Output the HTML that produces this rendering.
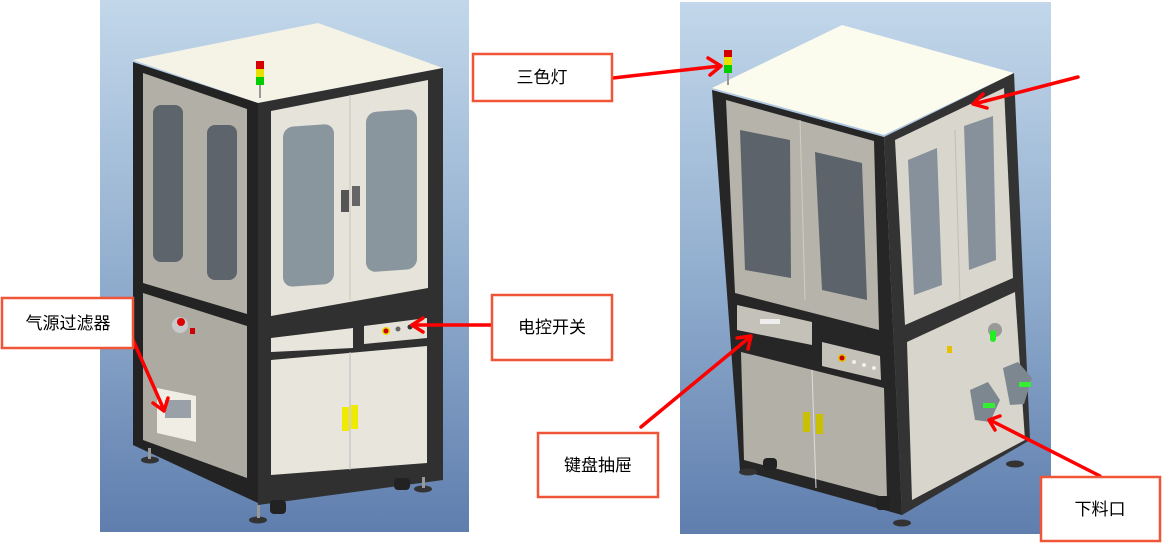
<!DOCTYPE html>
<html><head><meta charset="utf-8"><style>
html,body{margin:0;padding:0;background:#fff;}
svg{display:block}
text{font-family:"Liberation Sans","Noto Sans CJK SC",sans-serif;font-size:17px;fill:#000}
</style></head><body>
<svg width="1162" height="543" viewBox="0 0 1162 543" xmlns="http://www.w3.org/2000/svg">
<defs>
<linearGradient id="bg" x1="0" y1="0" x2="0" y2="1">
<stop offset="0" stop-color="#c2d7ea"/><stop offset="0.5" stop-color="#93afcf"/><stop offset="1" stop-color="#5f7eae"/>
</linearGradient>
</defs>
<rect x="100" y="0" width="369" height="532" fill="url(#bg)"/>
<rect x="680" y="2" width="371" height="532" fill="url(#bg)"/>

<!-- LEFT MACHINE -->
<polygon points="133,60 318,23 443,68 258,103" fill="#f4f3e6"/>
<polygon points="133,62 258,103 258,503 133,445" fill="#232323"/>
<polygon points="143,73 247,109 247,314 143,283" fill="#b2b0a6"/>
<rect x="153" y="105" width="30" height="157" rx="8" fill="#5e646c"/>
<rect x="207" y="125" width="30" height="155" rx="8" fill="#5e646c"/>
<polygon points="143,293 247,326 247,478 143,440" fill="#adaba1"/>
<polygon points="157,388 196,396 196,442 157,433" fill="#f0eee4"/>
<rect x="165" y="400" width="26" height="18" fill="#9aa0a8"/>
<circle cx="180" cy="325" r="8" fill="#c7c9cc"/>
<circle cx="181" cy="322" r="4" fill="#d00"/>
<rect x="190" y="328" width="5" height="6" fill="#c00"/>
<polygon points="258,103 443,68 443,480 258,505" fill="#303030"/>
<polygon points="271,111 428,80 428,288 271,316" fill="#e6e4da"/>
<rect x="283" y="127" width="51" height="160" rx="10" fill="#8a969e" transform="skewY(-4) translate(0,20)"/>
<rect x="366" y="112" width="51" height="160" rx="10" fill="#8a969e" transform="skewY(-4) translate(0,26)"/>
<line x1="350" y1="95" x2="350" y2="300" stroke="#c8c6bc"/>
<rect x="341" y="190" width="8" height="22" fill="#555"/>
<rect x="352" y="186" width="8" height="20" fill="#666"/>
<polygon points="271,338 353,328 353,348 271,352" fill="#e8e6dc"/>
<polygon points="364,326 427,318 427,338 364,344" fill="#e4e2d8"/>
<circle cx="386" cy="331" r="4" fill="#e8d800"/><circle cx="386" cy="331" r="2.5" fill="#c00"/>
<circle cx="398" cy="329" r="2.5" fill="#666"/><circle cx="410" cy="327" r="2.5" fill="#333"/>
<polygon points="271,360 427,346 427,463 271,475" fill="#e8e6dc"/>
<line x1="350" y1="352" x2="350" y2="470" stroke="#bbb"/>
<rect x="342" y="407" width="7" height="24" fill="#f0ea00"/>
<rect x="351" y="405" width="7" height="24" fill="#f0ea00"/>
<ellipse cx="150" cy="460" rx="9" ry="3.5" fill="#333"/><rect x="148" y="448" width="3" height="11" fill="#999"/>
<ellipse cx="258" cy="520" rx="9" ry="3.5" fill="#333"/><rect x="257" y="505" width="3" height="13" fill="#999"/>
<ellipse cx="423" cy="489" rx="9" ry="3.5" fill="#333"/><rect x="422" y="477" width="3" height="11" fill="#999"/>
<rect x="270" y="500" width="16" height="14" rx="4" fill="#222"/>
<rect x="394" y="478" width="16" height="12" rx="4" fill="#222"/>
<rect x="256" y="61" width="8" height="8" fill="#d40000"/>
<rect x="256" y="69" width="8" height="8" fill="#e8e000"/>
<rect x="256" y="77" width="8" height="8" fill="#00cc00"/>
<rect x="259" y="85" width="2" height="13" fill="#999"/>

<!-- RIGHT MACHINE -->
<polygon points="712,88 842,25 1014,73 884,135" fill="#fbfbee"/>
<polygon points="712,90 884,137 902,515 740,470" fill="#262626"/>
<polygon points="726,100 874,141 879,330 735,293" fill="#b6b4aa"/>
<polygon points="740,130 790,140 791,278 745,270" fill="#5d636b"/>
<polygon points="815,152 862,163 867,300 822,290" fill="#5d636b"/>
<line x1="800" y1="120" x2="805" y2="300" stroke="#d0cec4"/>
<polygon points="741,352 884,388 887,498 744,460" fill="#b3b1a7"/>
<line x1="812" y1="370" x2="816" y2="488" stroke="#ddd"/>
<rect x="803" y="412" width="7" height="20" fill="#c8c000"/>
<rect x="816" y="414" width="7" height="20" fill="#c8c000"/>
<polygon points="737,305 812,322 812,345 737,330" fill="#c4c2b8"/>
<rect x="760" y="319" width="20" height="5" fill="#eee"/>
<polygon points="822,342 880,356 881,380 822,366" fill="#c4c2b8"/>
<circle cx="842" cy="358" r="4" fill="#e0c000"/><circle cx="842" cy="358" r="2.5" fill="#c00"/>
<circle cx="854" cy="362" r="2" fill="#eee"/><circle cx="864" cy="365" r="2" fill="#eee"/><circle cx="874" cy="368" r="2" fill="#eee"/>
<polygon points="884,137 1014,73 1030,440 902,515" fill="#333"/>
<polygon points="895,140 1004,88 1013,278 905,325" fill="#d9d7cd"/>
<polygon points="908,160 937,148 942,285 914,295" fill="#87919b"/>
<polygon points="964,126 993,116 996,260 969,270" fill="#87919b"/>
<line x1="955" y1="130" x2="960" y2="300" stroke="#c0beb4"/>
<polygon points="907,342 1015,292 1025,440 912,500" fill="#d8d6cc"/>
<circle cx="995" cy="330" r="7" fill="#999"/><rect x="990" y="330" width="6" height="12" rx="3" fill="#2e2"/>
<rect x="947" y="346" width="5" height="7" fill="#e8c000"/>
<polygon points="970,390 988,382 1000,400 990,422 975,420" fill="#7d8790"/>
<polygon points="1003,368 1018,362 1032,378 1024,404 1010,405" fill="#7d8790"/>
<rect x="983" y="403" width="12" height="5" fill="#3e3"/>
<rect x="1019" y="382" width="12" height="5" fill="#3e3"/>
<ellipse cx="748" cy="472" rx="9" ry="3.5" fill="#333"/>
<ellipse cx="902" cy="523" rx="9" ry="3.5" fill="#333"/>
<ellipse cx="1015" cy="464" rx="9" ry="3.5" fill="#333"/>
<rect x="876" y="496" width="14" height="14" rx="4" fill="#222"/>
<rect x="763" y="458" width="14" height="12" rx="4" fill="#222"/>
<rect x="724" y="50" width="8" height="7" fill="#d40000"/>
<rect x="724" y="57" width="8" height="8" fill="#e8e000"/>
<rect x="724" y="65" width="8" height="8" fill="#00cc00"/>
<rect x="727" y="73" width="2" height="12" fill="#999"/>

<!-- ARROWS -->
<g stroke="#f00" stroke-width="3.5" fill="none" stroke-linecap="round" stroke-linejoin="round">
<line x1="613" y1="78" x2="720" y2="66"/><polyline points="708,58 721,66 710,75"/>
<line x1="133" y1="340" x2="164" y2="410"/><polyline points="153,403 164,411 168,398"/>
<line x1="491" y1="325" x2="412" y2="325"/><polyline points="423,318 412,325 423,332"/>
<line x1="641" y1="427" x2="750" y2="337"/><polyline points="737,338 751,336 748,349"/>
<line x1="1078" y1="77" x2="974" y2="104"/><polyline points="983,94 973,104 987,108"/>
<line x1="1100" y1="476" x2="990" y2="420"/><polyline points="1000,416 989,420 995,430"/>
</g>

<g fill="#fff" stroke="#f05538" stroke-width="2.5">
<rect x="473" y="54" width="139" height="47"/>
<rect x="2" y="298" width="131" height="50"/>
<rect x="492" y="295" width="120" height="65"/>
<rect x="538" y="433" width="120" height="64"/>
<rect x="1041" y="477" width="119" height="64"/>
</g>
<text x="542" y="83" text-anchor="middle">三色灯</text>
<text x="68" y="329" text-anchor="middle">气源过滤器</text>
<text x="552" y="333" text-anchor="middle">电控开关</text>
<text x="598" y="471" text-anchor="middle">键盘抽屉</text>
<text x="1100" y="515" text-anchor="middle">下料口</text>
</svg>
</body></html>
